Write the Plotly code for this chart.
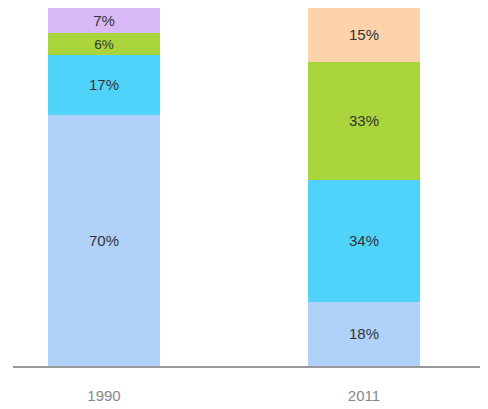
import plotly.graph_objects as go

years = ["1990", "2011"]
series_names = ["A", "B", "C", "D", "E"]
light_blue = [70, 18]
cyan = [17, 34]
green = [6, 33]
purple = [7, 0]
peach = [0, 15]

series = [
    (light_blue, "#b0d2fa"),
    (cyan, "#4fd3fb"),
    (green, "#a9d43c"),
    (purple, "#d9b8f7"),
    (peach, "#fdd3ac"),
]

fig = go.Figure()
for (vals, col), name in zip(series, series_names):
    fig.add_trace(go.Bar(
        x=years, y=vals, name=name,
        marker=dict(color=col, line=dict(width=0)),
        text=[f"{v}%" if v else "" for v in vals],
        textposition="inside", insidetextanchor="middle",
        textfont=dict(family="Liberation Sans, Arial", size=15, color="#333333"),
        width=0.43, hoverinfo="skip",
    ))

fig.update_layout(
    barmode="stack",
    width=480, height=401,
    margin=dict(l=5, r=0, t=0, b=43),
    paper_bgcolor="white", plot_bgcolor="white",
    showlegend=False,
    uniformtext=dict(minsize=15, mode=False),
    xaxis=dict(
        type="category", range=[-0.35, 1.477],
        showline=True, linecolor="#999999", linewidth=1.5,
        showgrid=False, ticks="", zeroline=False,
        tickfont=dict(family="Liberation Sans, Arial", size=15, color="#888888"),
        ticklabelstandoff=15,
    ),
    yaxis=dict(range=[0, 100], visible=False, showgrid=False, zeroline=False),
)

fig.write_html("out.html")
